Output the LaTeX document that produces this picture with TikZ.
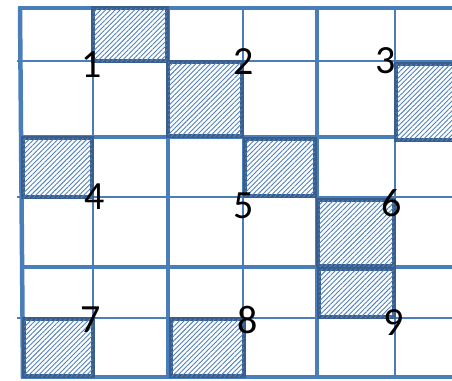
\documentclass[tikz,border=0pt]{standalone}
\usepackage{fontspec}
\setmainfont{Carlito}
\usetikzlibrary{patterns.meta}
\definecolor{gridblue}{HTML}{4A7EBB}
\definecolor{darkblue}{HTML}{3A5E8C}
\definecolor{hatchblue}{HTML}{4F81BD}
\tikzset{
  thinline/.style={draw=gridblue, line width=2pt},
  thickline/.style={draw=gridblue, line width=4.5pt},
  hatchcell/.style={draw=darkblue, line width=4.5pt, fill=white,
    postaction={pattern={Lines[angle=45,distance=3.4pt,line width=0.9pt]}, pattern color=hatchblue}},
  numlabel/.style={inner sep=0pt, font=\fontsize{40}{40}\selectfont, text=black}
}
\begin{document}
\begin{tikzpicture}[x=1pt,y=-1pt]
\useasboundingbox (0,0) rectangle (452,380);
\fill[white] (0,0) rectangle (452,380);
\clip (0,0) rectangle (452,380);
% thin grid lines
\draw[thinline] (93,8) -- (93,378);
\draw[thinline] (243,8) -- (243,378);
\draw[thinline] (395,8) -- (395,378);
\draw[thinline] (17,61) -- (452,61);
\draw[thinline] (17,197) -- (452,197);
\draw[thinline] (17,318) -- (452,318);
% thick grid lines
\draw[thickline] (20,8) -- (23,378);
\draw[thickline] (168,8) -- (168,378);
\draw[thickline] (317,8) -- (317,378);
\draw[thickline] (18,8) -- (452,8);
\draw[thickline] (20,137) -- (452,137);
\draw[thickline] (21,267) -- (452,267);
\draw[thickline] (21,377) -- (452,377);
% hatched cells
\draw[hatchcell] (93,8) rectangle (167,61);
\draw[hatchcell] (168,62) rectangle (242,136);
\draw[hatchcell] (396,64) rectangle (470,140);
\draw[hatchcell] (23,138) rectangle (92,197);
\draw[hatchcell] (245,139) rectangle (315,196);
\draw[hatchcell] (318,200) rectangle (394,266);
\draw[hatchcell] (319,269) rectangle (394,317);
\draw[hatchcell] (24,319) rectangle (93,376);
\draw[hatchcell] (171,319) rectangle (244,376);
% labels
\node[numlabel] (n1) at (92,65) {1};
\node[numlabel] (n2) at (244,62) {2};
\node[numlabel] (n3) at (386,61) {3};
\node[numlabel] (n4) at (95,197) {4};
\node[numlabel] (n5) at (244,206) {5};
\node[numlabel] (n6) at (392,203) {6};
\node[numlabel] (n7) at (91,320) {7};
\node[numlabel] (n8) at (248,320) {8};
\node[numlabel] (n9) at (394,323) {9};
\end{tikzpicture}
\end{document}
